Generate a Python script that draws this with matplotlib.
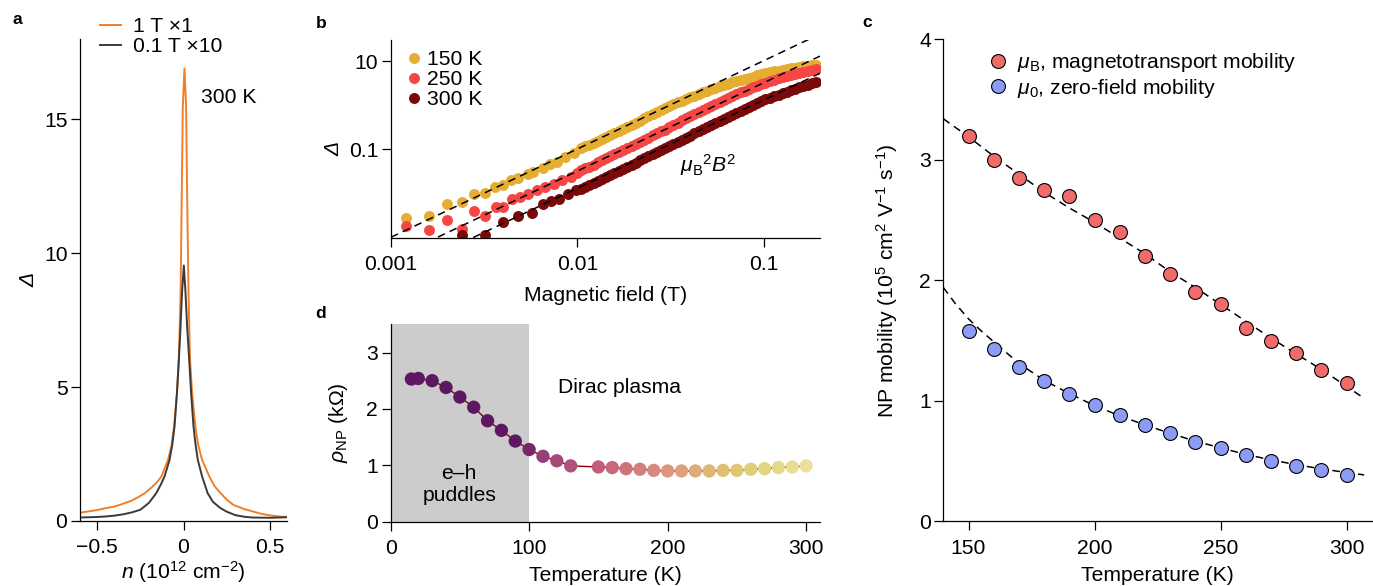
import matplotlib
matplotlib.use("Agg")
import matplotlib.pyplot as plt
import numpy as np
from matplotlib.colors import LinearSegmentedColormap, Normalize
from matplotlib.patches import Rectangle

plt.rcParams["font.family"] = ["Liberation Sans", "DejaVu Sans"]
plt.rcParams["font.size"] = 15.2
plt.rcParams["mathtext.fontset"] = "custom"
plt.rcParams["mathtext.rm"] = "Liberation Sans"
plt.rcParams["mathtext.it"] = "Liberation Sans:italic"
plt.rcParams["mathtext.bf"] = "Liberation Sans:bold"
plt.rcParams["axes.linewidth"] = 0.9
for ax_name in ("xtick", "ytick"):
    plt.rcParams[f"{ax_name}.major.size"] = 6.5
    plt.rcParams[f"{ax_name}.major.width"] = 0.9
    plt.rcParams[f"{ax_name}.direction"] = "out"
plt.rcParams["xtick.major.pad"] = 6
plt.rcParams["ytick.major.pad"] = 2.5

# ---------------- panel a: Delta vs carrier density at 300 K ----------------
n_1T = [-0.60, -0.55, -0.50, -0.45, -0.40, -0.37, -0.30, -0.26, -0.224, -0.18,
        -0.15, -0.128, -0.09, -0.07, -0.055, -0.038, -0.027, -0.017, -0.010, -0.004,
        0.0055, 0.015, 0.021, 0.029, 0.038, 0.050, 0.069, 0.085, 0.108, 0.15,
        0.18, 0.215, 0.25, 0.29, 0.35, 0.40, 0.45, 0.50, 0.55, 0.60]
delta_1T = [0.31, 0.36, 0.41, 0.48, 0.54, 0.60, 0.76, 0.90, 1.04, 1.28,
            1.48, 1.66, 2.28, 2.80, 3.53, 4.78, 6.02, 8.50, 12.26, 15.50,
            16.90, 15.50, 12.26, 8.50, 6.02, 4.78, 3.53, 2.85, 2.28, 1.66,
            1.30, 1.04, 0.80, 0.60, 0.45, 0.36, 0.27, 0.21, 0.17, 0.15]

n_01T = [-0.60, -0.50, -0.45, -0.40, -0.35, -0.30, -0.25, -0.20, -0.158, -0.13,
         -0.11, -0.081, -0.065, -0.052, -0.038, -0.027, -0.017, -0.008, 0.002, 0.011,
         0.021, 0.033, 0.044, 0.058, 0.070, 0.083, 0.108, 0.14, 0.17, 0.21,
         0.25, 0.30, 0.35, 0.40, 0.50, 0.60]
delta_01T_x10 = [0.13, 0.15, 0.17, 0.20, 0.25, 0.32, 0.42, 0.68, 1.04, 1.38,
                 1.66, 2.28, 2.85, 3.53, 4.78, 6.02, 7.27, 8.60, 9.54, 8.60,
                 7.27, 6.02, 4.78, 3.53, 2.85, 2.28, 1.66, 1.04, 0.72, 0.50,
                 0.35, 0.22, 0.16, 0.13, 0.12, 0.14]

# ---------------- panel b: Delta vs magnetic field ----------------
# sparse low-field points
B_low = [0.0012, 0.0016, 0.0020, 0.0024, 0.0028, 0.0032, 0.0036, 0.0040, 0.0044,
         0.0048, 0.0054, 0.0058, 0.0065, 0.0071, 0.0078, 0.0086, 0.0096]
delta_150K_low = [0.0028, 0.0031, 0.0057, 0.0063, 0.0096, 0.0103, 0.0140, 0.0153, 0.0206,
                  0.0229, 0.0272, 0.0307, 0.0385, 0.0458, 0.0530, 0.0660, 0.0820]
B_250K_low = [0.0012, 0.0016, 0.0020, 0.0024, 0.0028, 0.0032, 0.00366, 0.0040, 0.00446,
              0.0049, 0.00543, 0.0061, 0.0067, 0.0075, 0.0083, 0.0092, 0.0099]
delta_250K_low = [0.00184, 0.00147, 0.00248, 0.00158, 0.00395, 0.00305, 0.00495, 0.00495,
                  0.00766, 0.00836, 0.0096, 0.0118, 0.0140, 0.0161, 0.0199, 0.0240, 0.0290]
B_300K_low = [0.0024, 0.0032, 0.0040, 0.0048, 0.0057, 0.0065, 0.0072, 0.0080, 0.0089, 0.0098]
delta_300K_low = [0.00113, 0.00113, 0.00226, 0.00305, 0.00363, 0.0057, 0.00676, 0.00766,
                  0.0096, 0.0118]

# dense high-field band (same field values for all three temperatures)
B_high = [0.0105, 0.0110, 0.0116, 0.0122, 0.0129, 0.0136, 0.0143, 0.0150, 0.0158, 0.0167,
          0.0176, 0.0185, 0.0195, 0.0205, 0.0216, 0.0228, 0.0240, 0.0253, 0.0266, 0.0280,
          0.0295, 0.0311, 0.0327, 0.0345, 0.0363, 0.0382, 0.0403, 0.0424, 0.0447, 0.0470,
          0.0495, 0.0522, 0.0550, 0.0579, 0.0610, 0.0642, 0.0676, 0.0712, 0.0750, 0.0790,
          0.0832, 0.0876, 0.0923, 0.0970, 0.102, 0.108, 0.114, 0.120, 0.126, 0.133,
          0.140, 0.147, 0.155, 0.163, 0.172, 0.181, 0.190]
delta_150K_high = [0.107, 0.117, 0.127, 0.142, 0.158, 0.176, 0.195, 0.214, 0.234, 0.260,
                   0.288, 0.320, 0.355, 0.398, 0.447, 0.501, 0.562, 0.624, 0.692, 0.767,
                   0.851, 0.944, 1.047, 1.155, 1.274, 1.389, 1.514, 1.651, 1.80, 1.96,
                   2.13, 2.30, 2.48, 2.67, 2.88, 3.08, 3.30, 3.50, 3.72, 3.94,
                   4.17, 4.45, 4.74, 4.99, 5.25, 5.53, 5.82, 6.06, 6.31, 6.57,
                   6.84, 7.07, 7.31, 7.58, 7.85, 8.08, 8.32]
delta_250K_high = [0.0339, 0.0372, 0.0407, 0.0454, 0.0507, 0.0566, 0.0631, 0.0700, 0.0776, 0.0866,
                   0.0966, 0.107, 0.119, 0.131, 0.145, 0.163, 0.184, 0.208, 0.234, 0.257,
                   0.282, 0.318, 0.359, 0.403, 0.452, 0.506, 0.566, 0.629, 0.700, 0.778,
                   0.865, 0.963, 1.072, 1.191, 1.324, 1.465, 1.622, 1.784, 1.963, 2.145,
                   2.344, 2.555, 2.786, 3.002, 3.236, 3.508, 3.802, 4.050, 4.315, 4.597,
                   4.898, 5.129, 5.370, 5.689, 6.026, 6.324, 6.637]
delta_300K_high = [0.0129, 0.0142, 0.0157, 0.0175, 0.0195, 0.0216, 0.0240, 0.0266, 0.0295, 0.0329,
                   0.0367, 0.0407, 0.0452, 0.0504, 0.0562, 0.0627, 0.0700, 0.0776, 0.0861, 0.0955,
                   0.106, 0.118, 0.132, 0.146, 0.162, 0.182, 0.204, 0.229, 0.257, 0.287,
                   0.320, 0.357, 0.398, 0.439, 0.484, 0.540, 0.603, 0.677, 0.759, 0.840,
                   0.929, 1.033, 1.148, 1.255, 1.371, 1.491, 1.622, 1.748, 1.884, 2.037,
                   2.203, 2.366, 2.541, 2.723, 2.917, 3.108, 3.311]

# magnetotransport mobility used for the mu_B^2 B^2 guides (m^2 V^-1 s^-1)
mu_B_guides = {"150 K": 32.0, "250 K": 18.0, "300 K": 11.5}

# ---------------- panel c: mobility vs temperature ----------------
T_mob = [150, 160, 170, 180, 190, 200, 210, 220, 230, 240, 250, 260, 270, 280, 290, 300]
mu_B = [3.20, 3.00, 2.85, 2.75, 2.70, 2.50, 2.40, 2.20, 2.05, 1.90, 1.80, 1.60,
        1.50, 1.40, 1.255, 1.147]
mu_0 = [1.58, 1.426, 1.278, 1.163, 1.054, 0.961, 0.878, 0.797, 0.729, 0.657, 0.605,
        0.552, 0.502, 0.459, 0.425, 0.384]

T_fit = [140, 145, 150, 155, 160, 170, 180, 190, 200, 210, 220, 230, 240, 250,
         260, 270, 280, 290, 300, 307]
mu_B_fit = [3.34, 3.265, 3.19, 3.11, 3.03, 2.88, 2.73, 2.60, 2.48, 2.35, 2.22, 2.07,
            1.94, 1.80, 1.66, 1.52, 1.39, 1.26, 1.12, 1.02]
mu_0_fit = [1.94, 1.80, 1.68, 1.58, 1.49, 1.31, 1.17, 1.06, 0.96, 0.875, 0.80, 0.73,
            0.665, 0.61, 0.555, 0.51, 0.47, 0.435, 0.405, 0.385]

# ---------------- panel d: resistivity at the neutrality point ----------------
T_rho = [15, 20, 30, 40, 50, 60, 70, 80, 90, 100, 110, 120, 130, 150, 160, 170, 180,
         190, 200, 210, 220, 230, 240, 250, 260, 270, 280, 290, 300]
rho_NP = [2.53, 2.54, 2.50, 2.38, 2.21, 2.03, 1.79, 1.62, 1.43, 1.28, 1.16, 1.08, 0.99,
          0.97, 0.96, 0.94, 0.93, 0.91, 0.90, 0.90, 0.90, 0.90, 0.91, 0.91, 0.93,
          0.94, 0.96, 0.97, 0.99]
puddle_range = (0, 100)

COL_1T = "#f07f28"
COL_01T = "#3a3a3a"
COL_B = {"150 K": "#e5ae32", "250 K": "#f54646", "300 K": "#7a0a0a"}
COL_MU_B = "#f26b6b"
COL_MU_0 = "#8b9bf6"
rho_cmap = LinearSegmentedColormap.from_list("np_rho", [
    (0.0, "#5e1762"), (0.048, "#7a2866"), (0.095, "#983d78"), (0.19, "#b05378"),
    (0.286, "#c25d7c"), (0.52, "#dc9580"), (0.714, "#dfc072"), (0.86, "#e1d580"),
    (1.0, "#ebe09e")])

DASH = (0, (5, 3.5))


def clean(ax):
    ax.spines["top"].set_visible(False)
    ax.spines["right"].set_visible(False)


def panel_a(ax):
    ax.plot(n_1T, delta_1T, color=COL_1T, lw=1.4, label="1 T ×1")
    ax.plot(n_01T, delta_01T_x10, color=COL_01T, lw=1.4, label="0.1 T ×10")
    ax.set_xlim(-0.6, 0.6)
    ax.set_ylim(0, 18)
    ax.set_xticks([-0.5, 0, 0.5])
    ax.set_xticklabels(["\u22120.5", "0", "0.5"])
    ax.set_yticks([0, 5, 10, 15])
    ax.set_xlabel(r"$n$ (10$^{12}$ cm$^{-2}$)", labelpad=1.2)
    ax.set_ylabel("Δ", fontstyle="italic")
    ax.yaxis.set_label_coords(-0.20, 0.5)
    ax.text(0.104, 15.8, "300 K", ha="left", va="center")
    ax.legend(loc="upper left", bbox_to_anchor=(100 / 1373, 1 - 17 / 586),
              bbox_transform=ax.figure.transFigure, frameon=False, borderpad=0,
              borderaxespad=0, handlelength=1.0, handletextpad=0.55, labelspacing=0.05)
    clean(ax)


def panel_b(ax):
    guide_B = np.geomspace(0.001, 0.2, 60)
    series = (("150 K", B_low, delta_150K_low, delta_150K_high),
              ("250 K", B_250K_low, delta_250K_low, delta_250K_high),
              ("300 K", B_300K_low, delta_300K_low, delta_300K_high))
    for name, B_l, d_l, d_h in series:
        ax.plot(B_l + B_high, d_l + d_h, "o", ms=7.9, mew=0, color=COL_B[name],
                label=name, zorder=2)
    for name, mu in mu_B_guides.items():
        ax.plot(guide_B, (mu * guide_B) ** 2, color="black", lw=1.1, ls=DASH, zorder=3)
    ax.set_xscale("log")
    ax.set_yscale("log")
    ax.set_xlim(0.001, 0.2)
    ax.set_ylim(0.001, 30)
    ax.set_xticks([0.001, 0.01, 0.1])
    ax.set_xticklabels(["0.001", "0.01", "0.1"])
    ax.set_yticks([0.1, 10])
    ax.set_yticklabels(["0.1", "10"])
    ax.minorticks_off()
    ax.set_xlabel("Magnetic field (T)", labelpad=8.5)
    ax.set_ylabel("Δ", fontstyle="italic")
    ax.yaxis.set_label_coords(-0.112, 0.45)
    ax.text(0.0353, 0.0436, r"$\mu_{\rm B}{}^{2}B^{2}$", ha="left", va="center")
    ax.legend(loc="upper left", bbox_to_anchor=(408 / 1373, 1 - 50 / 586),
              bbox_transform=ax.figure.transFigure, frameon=False, borderpad=0,
              borderaxespad=0, handlelength=0.6, handletextpad=0.3, labelspacing=0.05)
    clean(ax)


def panel_c(ax):
    ax.plot(T_fit, mu_B_fit, color="black", lw=1.1, ls=DASH, zorder=2)
    ax.plot(T_fit, mu_0_fit, color="black", lw=1.1, ls=DASH, zorder=2)
    ax.plot(T_mob, mu_B, "o", ms=10, mfc=COL_MU_B, mec="black", mew=0.8, zorder=3,
            label=r"$\mu_{\rm B}$, magnetotransport mobility")
    ax.plot(T_mob, mu_0, "o", ms=10, mfc=COL_MU_0, mec="black", mew=0.8, zorder=3,
            label=r"$\mu_{0}$, zero-field mobility")
    ax.set_xlim(140, 310)
    ax.set_ylim(0, 4)
    ax.set_xticks([150, 200, 250, 300])
    ax.set_yticks([0, 1, 2, 3, 4])
    ax.set_xlabel("Temperature (K)", labelpad=6.0)
    ax.set_ylabel(r"NP mobility (10$^{5}$ cm$^{2}$ V$^{-1}$ s$^{-1}$)")
    ax.yaxis.set_label_coords(-0.10, 0.5)
    ax.legend(loc="upper left", bbox_to_anchor=(990 / 1373, 1 - 51 / 586),
              bbox_transform=ax.figure.transFigure, frameon=False, borderpad=0,
              borderaxespad=0, handlelength=0.8, handletextpad=0.5, labelspacing=0.12)
    clean(ax)


def panel_d(ax):
    ax.add_patch(Rectangle((puddle_range[0], 0), puddle_range[1] - puddle_range[0], 3.5,
                           facecolor="#cccccc", edgecolor="none", zorder=0))
    ax.plot(T_rho, rho_NP, color="#8b0000", lw=1.0, zorder=1)
    ax.scatter(T_rho, rho_NP, s=92, c=T_rho, cmap=rho_cmap,
               norm=Normalize(vmin=90, vmax=300, clip=True), linewidths=0, zorder=2)
    ax.set_xlim(0, 310)
    ax.set_ylim(0, 3.5)
    ax.set_xticks([0, 100, 200, 300])
    ax.set_yticks([0, 1, 2, 3])
    ax.set_xlabel("Temperature (K)", labelpad=6.0)
    ax.set_ylabel(r"$\rho_{\rm NP}$ (kΩ)")
    ax.yaxis.set_label_coords(-0.095, 0.5)
    ax.text(121, 2.38, "Dirac plasma", ha="left", va="center")
    ax.text(49.5, 0.66, "e–h\npuddles", ha="center", va="center", linespacing=1.2)
    clean(ax)


def main():
    W, H = 1373, 586
    fig = plt.figure(figsize=(W / 100, H / 100), dpi=100)

    def box(left, right, top, bottom):
        return [left / W, 1 - bottom / H, (right - left) / W, (bottom - top) / H]

    ax_a = fig.add_axes(box(80, 287, 39, 521))
    ax_b = fig.add_axes(box(391, 820, 40, 237.7))
    ax_d = fig.add_axes(box(390.6, 820, 324.3, 521.7))
    ax_c = fig.add_axes(box(943.3, 1371.7, 39.2, 521.3))

    panel_a(ax_a)
    panel_b(ax_b)
    panel_c(ax_c)
    panel_d(ax_d)

    for lab, x, y in (("a", 12.7, 24.5), ("b", 315.5, 28), ("c", 862.7, 27), ("d", 315.5, 318)):
        fig.text(x / W, 1 - y / H, lab, fontsize=12.5, fontweight="bold",
                 ha="left", va="baseline")

    fig.savefig("out.png", dpi=100)


if __name__ == "__main__":
    main()
